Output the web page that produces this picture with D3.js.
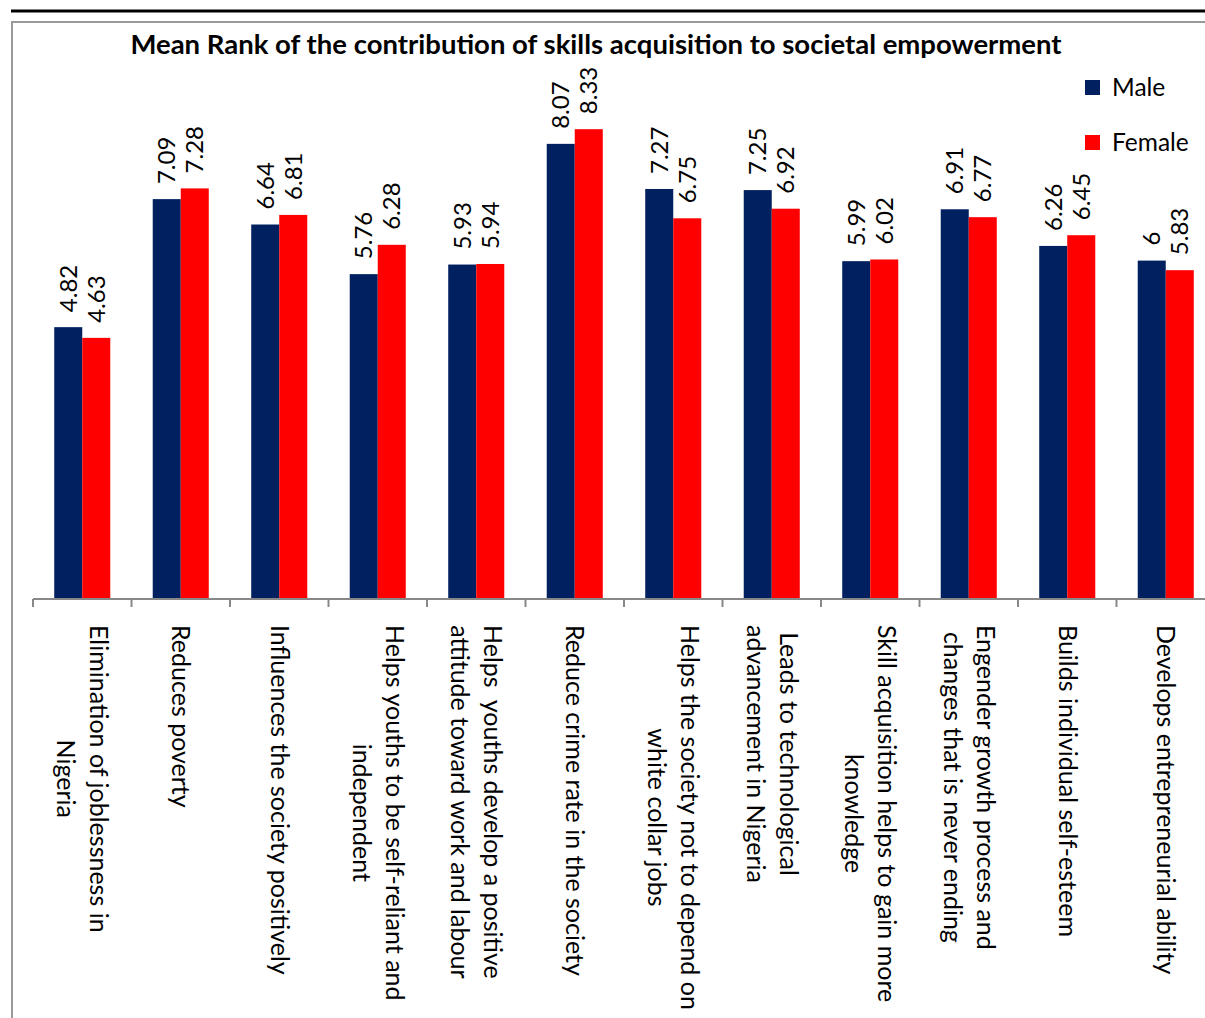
<!DOCTYPE html>
<html lang="en">
<head>
<meta charset="utf-8">
<title>Mean Rank of the contribution of skills acquisition to societal empowerment</title>
<script src="https://cdn.jsdelivr.net/npm/d3@7"></script>
<style>
  body { margin: 0; background: #fff; }
  text { font-family: Lato, "Open Sans", sans-serif; fill: #000; white-space: pre; }
</style>
</head>
<body>
<svg width="1205" height="1018"></svg>
<script>
// data
var categories = [
    ["Elimination of joblessness in", "Nigeria"],
    ["Reduces poverty"],
    ["Influences the society positively"],
    ["Helps youths to be self-reliant and", "independent"],
    ["Helps  youths develop a positive", "attitude toward work and labour"],
    ["Reduce crime rate in the society"],
    ["Helps the society not to depend on", "white collar jobs"],
    ["Leads to technological", "advancement in Nigeria"],
    ["Skill acquisition helps to gain more", "knowledge"],
    ["Engender growth process and", "changes that is never ending"],
    ["Builds individual self-esteem"],
    ["Develops entrepreneurial ability"]
];
var male = [4.82, 7.09, 6.64, 5.76, 5.93, 8.07, 7.27, 7.25, 5.99, 6.91, 6.26, 6];
var female = [4.63, 7.28, 6.81, 6.28, 5.94, 8.33, 6.75, 6.92, 6.02, 6.77, 6.45, 5.83];
var seriesNames = ["Male", "Female"];
var seriesColors = ["#002060", "#FF0000"];

var svg = d3.select("svg");

// page lines / frame
svg.append("line").attr("x1", 11).attr("x2", 1205).attr("y1", 11).attr("y2", 11)
    .attr("stroke", "#000").attr("stroke-width", 3);
svg.append("path").attr("d", "M1205,22 H12 V1018")
    .attr("fill", "none").attr("stroke", "#999").attr("stroke-width", 2);

svg.append("text")
    .attr("x", 596).attr("y", 54)
    .attr("text-anchor", "middle")
    .attr("font-size", "27.5px")
    .attr("font-weight", "bold")
    .text("Mean Rank of the contribution of skills acquisition to societal empowerment");

var idx = d3.range(categories.length);
var x = d3.scaleBand().domain(idx).range([33, 33 + 98.5 * 12])
    .paddingInner(0.431).paddingOuter(0.2155);
var y = d3.scaleLinear().domain([0, 10]).range([599, 35]);
var bw = x.bandwidth() / 2;

var rows = idx.map(function(i) {
    return [{ s: 0, i: i, v: male[i] }, { s: 1, i: i, v: female[i] }];
});

var groups = svg.append("g").selectAll("g").data(rows).enter().append("g");

groups.selectAll("rect").data(function(d) { return d; }).enter().append("rect")
    .attr("x", function(d) { return x(d.i) + d.s * bw; })
    .attr("y", function(d) { return y(d.v); })
    .attr("width", bw)
    .attr("height", function(d) { return y(0) - y(d.v); })
    .attr("fill", function(d) { return seriesColors[d.s]; });

groups.selectAll("text").data(function(d) { return d; }).enter().append("text")
    .attr("transform", function(d) {
        return "translate(" + (x(d.i) + d.s * bw + bw / 2) + "," + (y(d.v) - 15) + ") rotate(-90)";
    })
    .attr("dy", "0.35em")
    .attr("font-size", "24px")
    .text(function(d) { return d.v; });

// x axis: line + ticks between categories
var axis = svg.append("g").attr("stroke", "#888").attr("stroke-width", 2);
axis.append("line").attr("x1", 33).attr("x2", 1205).attr("y1", 599).attr("y2", 599);
axis.selectAll(".tick").data(idx).enter().append("line")
    .attr("x1", function(i) { return x(i) - x.step() * x.paddingOuter(); })
    .attr("x2", function(i) { return x(i) - x.step() * x.paddingOuter(); })
    .attr("y1", 599).attr("y2", 607);

// category labels, rotated to read top to bottom
var lh = 33;
idx.forEach(function(i) {
    var lines = categories[i];
    var cx = x(i) + x.bandwidth() / 2;
    var g = svg.append("g").attr("transform", "translate(" + cx + ",0) rotate(90)");
    var t = g.selectAll("text").data(lines).enter().append("text")
        .attr("y", function(d, k) { return (k - (lines.length - 1) / 2) * lh; })
        .attr("dy", "0.35em")
        .attr("font-size", "25px")
        .attr("text-anchor", "middle")
        .text(function(d) { return d; });
    var maxLen = d3.max(t.nodes(), function(n) { return n.getComputedTextLength(); });
    t.attr("x", 625 + maxLen / 2);
});

// legend
var legend = svg.append("g").selectAll("g").data(seriesNames).enter().append("g")
    .attr("transform", function(d, k) { return "translate(1085," + (80 + k * 55) + ")"; });
legend.append("rect").attr("width", 15).attr("height", 15)
    .attr("fill", function(d, k) { return seriesColors[k]; });
legend.append("text").attr("x", 27).attr("y", 16)
    .attr("font-size", "24.5px")
    .text(function(d) { return d; });
</script>
</body>
</html>
